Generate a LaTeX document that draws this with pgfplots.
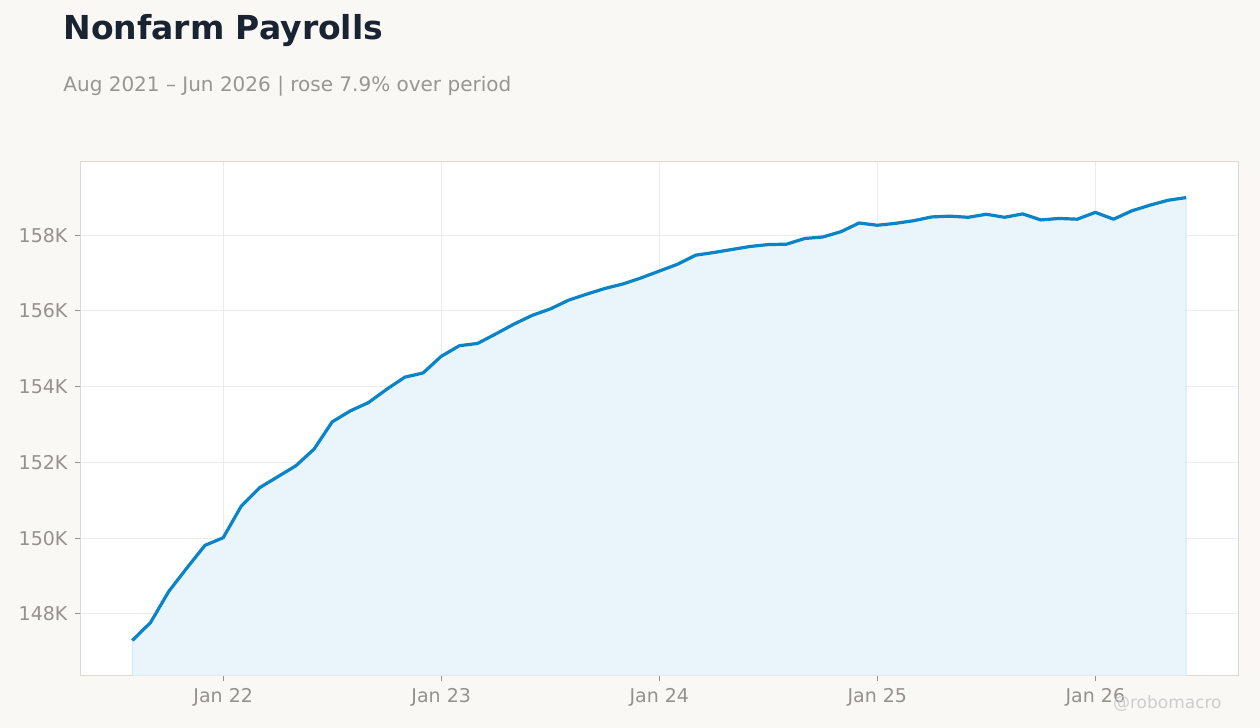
\documentclass[border=0pt]{standalone}
\usepackage{pgfplots}
\pgfplotsset{compat=1.18}
\usepackage{pgfplotstable}
\usepackage{fontspec}
\setmainfont{DejaVu Sans}

\definecolor{bgcol}{RGB}{249,248,245}
\definecolor{titlecol}{RGB}{26,35,50}
\definecolor{subcol}{RGB}{153,150,145}
\definecolor{tickcol}{RGB}{150,145,140}
\definecolor{framecol}{RGB}{220,215,208}
\definecolor{gridcol}{RGB}{236,236,236}
\definecolor{linecol}{RGB}{9,132,199}
\definecolor{fillcol}{RGB}{234,244,251}
\definecolor{filledge}{RGB}{214,232,244}
\definecolor{markcol}{RGB}{205,205,205}

% month index (0 = Aug 2021), payrolls in thousands of thousands
\pgfplotstableread{
i   v
0   147.30
1   147.77
2   148.59
3   149.21
4   149.81
5   150.01
6   150.85
7   151.33
8   151.62
9   151.91
10  152.35
11  153.07
12  153.36
13  153.58
14  153.93
15  154.25
16  154.36
17  154.80
18  155.08
19  155.14
20  155.39
21  155.65
22  155.88
23  156.05
24  156.28
25  156.44
26  156.59
27  156.71
28  156.87
29  157.05
30  157.23
31  157.47
32  157.54
33  157.62
34  157.70
35  157.75
36  157.76
37  157.91
38  157.95
39  158.09
40  158.32
41  158.26
42  158.31
43  158.38
44  158.48
45  158.50
46  158.47
47  158.55
48  158.47
49  158.56
50  158.40
51  158.44
52  158.42
53  158.60
54  158.42
55  158.64
56  158.79
57  158.92
58  158.99
}\payrolls

\begin{document}
\begin{tikzpicture}[x=1pt,y=1pt]
\fill[bgcol] (0,0) rectangle (630,364);
\node[anchor=base west, inner sep=0, text=titlecol,
      font=\fontsize{16.5pt}{19pt}\selectfont\bfseries] at (31.5,344.3) {Nonfarm Payrolls};
\node[anchor=base west, inner sep=0, text=subcol,
      font=\fontsize{10pt}{12pt}\selectfont] at (31.5,318.2) {Aug 2021 – Jun 2026 | rose 7.9\% over period};
\begin{axis}[
    at={(40pt,26pt)}, anchor=south west,
    scale only axis, width=579pt, height=257pt,
    xmin=-2.88, xmax=60.85,
    ymin=146.36, ymax=159.93,
    axis background/.style={fill=white},
    axis line style={draw=framecol, line width=0.5pt},
    grid=major,
    major grid style={draw=gridcol, line width=0.5pt},
    tick align=outside,
    xtick pos=bottom, ytick pos=left,
    major tick length=2.75pt,
    major tick style={draw=tickcol, line width=0.5pt},
    xtick={5,17,29,41,53},
    xticklabels={Jan 22,Jan 23,Jan 24,Jan 25,Jan 26},
    ytick={148,150,152,154,156,158},
    yticklabels={148K,150K,152K,154K,156K,158K},
    tick label style={text=tickcol, font=\fontsize{9.5pt}{11pt}\selectfont},
    /pgf/number format/assume math mode=true,
    clip=true,
]
\addplot[fill=fillcol, draw=filledge, line width=0.5pt] table[x=i,y=v] {\payrolls} \closedcycle;
\addplot[draw=linecol, line width=1.6pt, line join=round] table[x=i,y=v] {\payrolls};
\end{axis}
\node[anchor=base east, inner sep=0, text=markcol,
      font=\fontsize{8.5pt}{10pt}\selectfont] at (611,9.5) {@robomacro};
\end{tikzpicture}
\end{document}
